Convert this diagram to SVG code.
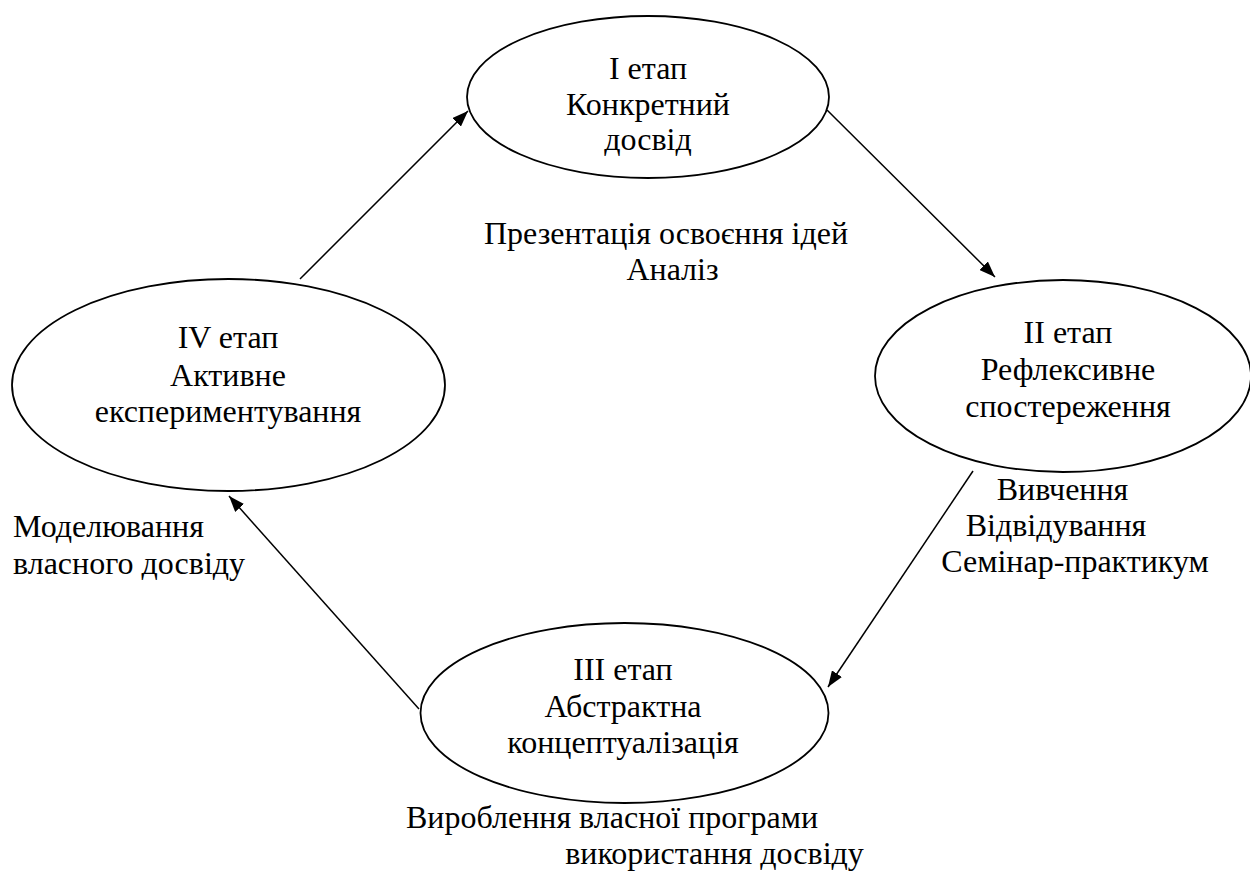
<svg xmlns="http://www.w3.org/2000/svg" width="1250" height="872" viewBox="0 0 1250 872">
<defs>
<marker id="arr" viewBox="0 0 16 12" refX="16" refY="6" markerWidth="16" markerHeight="12" markerUnits="userSpaceOnUse" orient="auto">
<path d="M0,0 L16,6 L0,12 z" fill="#000"/>
</marker>
<style>
.node ellipse{fill:#fff;stroke:#000;stroke-width:1.8}
text{font-family:"Liberation Serif","Times New Roman",serif;font-size:32px;fill:#000}
.c{text-anchor:middle}
.edge line{stroke:#000;stroke-width:1.5;marker-end:url(#arr)}
</style>
</defs>
<rect width="1250" height="872" fill="#fff"/>
<g id="edges" class="edge">
<line x1="300" y1="279" x2="468" y2="111"/>
<line x1="827" y1="110" x2="995" y2="277"/>
<line x1="973" y1="471" x2="828" y2="687"/>
<line x1="419" y1="709" x2="229" y2="496"/>
</g>
<g id="n1" class="node">
<ellipse cx="648" cy="97" rx="181" ry="81"/>
<text class="c" x="648" y="79">I етап</text>
<text class="c" x="648" y="114.5">Конкретний</text>
<text class="c" x="648" y="150">досвід</text>
</g>
<g id="n2" class="node">
<ellipse cx="1063" cy="376" rx="188" ry="96"/>
<text class="c" x="1068" y="343">II етап</text>
<text class="c" x="1068" y="380">Рефлексивне</text>
<text class="c" x="1068" y="417">спостереження</text>
</g>
<g id="n3" class="node">
<ellipse cx="624.5" cy="713" rx="204" ry="90"/>
<text class="c" x="623" y="680">III етап</text>
<text class="c" x="623" y="717">Абстрактна</text>
<text class="c" x="623" y="753">концептуалізація</text>
</g>
<g id="n4" class="node">
<ellipse cx="228.5" cy="385" rx="216.5" ry="106"/>
<text class="c" x="228" y="348">IV етап</text>
<text class="c" x="228" y="385.5">Активне</text>
<text class="c" x="228" y="422">експериментування</text>
</g>
<g id="labels">
<text class="c" x="666" y="244">Презентація освоєння ідей</text>
<text class="c" x="672.5" y="280">Аналіз</text>
<text class="c" x="1062.5" y="500">Вивчення</text>
<text class="c" x="1056" y="536">Відвідування</text>
<text class="c" x="1075" y="572">Семінар-практикум</text>
<text x="13" y="537">Моделювання</text>
<text x="13" y="574">власного досвіду</text>
<text class="c" x="612" y="828">Вироблення власної програми</text>
<text class="c" x="714.5" y="864">використання досвіду</text>
</g>
</svg>
